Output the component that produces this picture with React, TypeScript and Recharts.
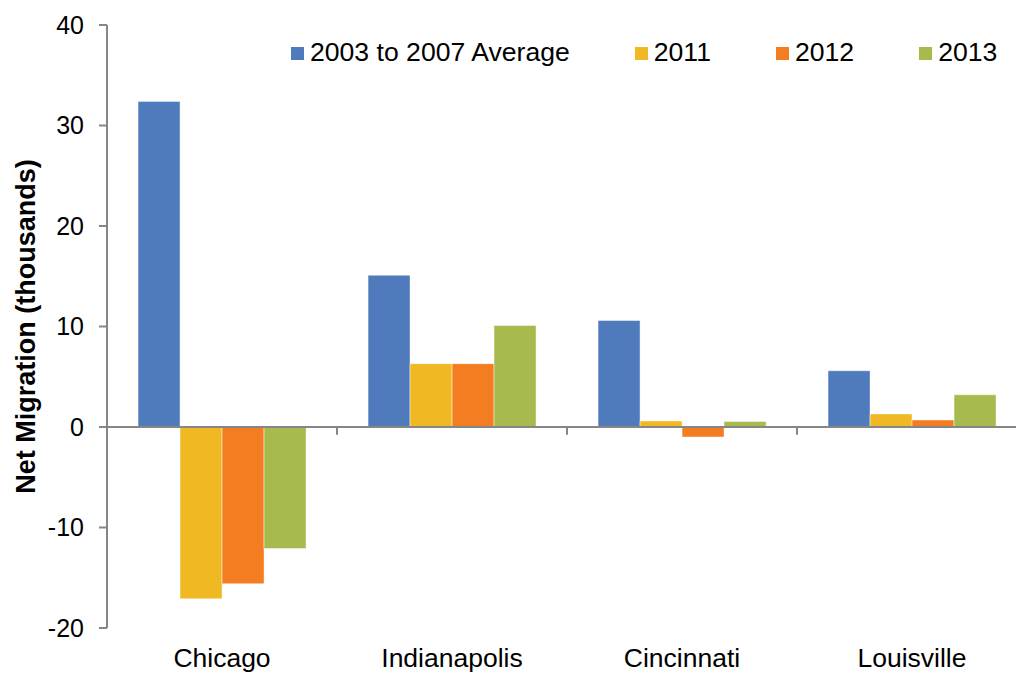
import React from 'react';
import { BarChart, Bar, XAxis, YAxis, Legend, ReferenceLine } from 'recharts';

const cities = ['Chicago', 'Indianapolis', 'Cincinnati', 'Louisville'];
const avg0307 = [32.4, 15.1, 10.6, 5.6];
const y2011 = [-17.1, 6.3, 0.6, 1.3];
const y2012 = [-15.6, 6.3, -1.0, 0.7];
const y2013 = [-12.1, 10.1, 0.55, 3.2];
const yTicks = [-20, -10, 0, 10, 20, 30, 40];
const boundaryCities = ['Indianapolis', 'Cincinnati', 'Louisville'];

const seriesNames = ['2003 to 2007 Average', '2011', '2012', '2013'];
const colors = ['#4F7BBC', '#F0B823', '#F47C21', '#A6BA4D'];

const data = cities.map((c, i) => ({
  city: c,
  a: avg0307[i],
  b: y2011[i],
  c: y2012[i],
  d: y2013[i],
}));

const FONT = '"Liberation Sans", Arial, sans-serif';

const LegendContent = (props: any) => {
  const payload = props.payload || [];
  return (
    <div style={{ display: 'flex', gap: 65, fontFamily: FONT, fontSize: 26.6, color: '#000', whiteSpace: 'nowrap' }}>
      {payload.map((p: any, i: number) => (
        <div key={i} style={{ display: 'flex', alignItems: 'center', height: 30 }}>
          <span style={{ display: 'inline-block', width: 13, height: 13, background: p.color, marginRight: 6, marginTop: 3 }} />
          <span>{p.value}</span>
        </div>
      ))}
    </div>
  );
};

export default function App() {
  return (
    <div style={{ position: 'fixed', left: 0, top: 0, width: 1016, height: 673, overflow: 'hidden', background: '#fff' }}>
      <BarChart
        width={1027}
        height={673}
        data={data}
        margin={{ top: 25, right: 0, bottom: 0, left: 0 }}
        barCategoryGap="13.5%"
        barGap={0}
      >
        <XAxis
          dataKey="city"
          axisLine={false}
          tickLine={false}
          tickSize={0}
          tickMargin={20}
          height={45}
          tick={{ fill: '#000', fontSize: 26.5, fontFamily: FONT }}
          interval={0}
        />
        <YAxis
          width={107}
          domain={[-20, 40]}
          ticks={yTicks}
          interval={0}
          axisLine={{ stroke: '#868686', strokeWidth: 2 }}
          tickLine={{ stroke: '#868686', strokeWidth: 2 }}
          tickSize={8}
          tickMargin={15}
          tick={{ fill: '#000', fontSize: 25, fontFamily: FONT }}
          label={{
            value: 'Net Migration (thousands)',
            angle: -90,
            position: 'center',
            dx: -28.5,
            style: { fill: '#000', fontSize: 27, fontWeight: 'bold', fontFamily: FONT, textAnchor: 'middle' },
          }}
        />
        <Legend
          layout="vertical"
          align="center"
          verticalAlign="middle"
          content={<LegendContent />}
          wrapperStyle={{ top: 37, left: 291, width: 'auto' }}
        />
        {['a', 'b', 'c', 'd'].map((k, i) => (
          <Bar
            key={k}
            dataKey={k}
            name={seriesNames[i]}
            fill={colors[i]}
            stroke="#ffffff"
            strokeOpacity={0.45}
            strokeWidth={1}
            isAnimationActive={false}
          />
        ))}
        <ReferenceLine y={0} stroke="#868686" strokeWidth={2} />
        {boundaryCities.map((c) => (
          <ReferenceLine
            key={c}
            position="start"
            segment={[{ x: c, y: 0 }, { x: c, y: -0.77 }]}
            stroke="#868686"
            strokeWidth={2}
          />
        ))}
      </BarChart>
    </div>
  );
}
